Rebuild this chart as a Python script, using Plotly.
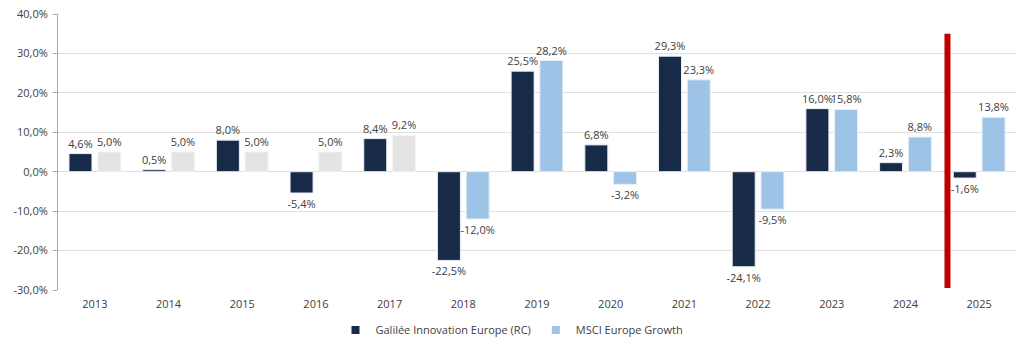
import plotly.graph_objects as go

YEARS = ["2013", "2014", "2015", "2016", "2017", "2018", "2019",
         "2020", "2021", "2022", "2023", "2024", "2025"]
GALILEE = [4.6, 0.5, 8.0, -5.4, 8.4, -22.5, 25.5, 6.8, 29.3, -24.1, 16.0, 2.3, -1.6]
MSCI = [5.0, 5.0, 5.0, 5.0, 9.2, -12.0, 28.2, -3.2, 23.3, -9.5, 15.8, 8.8, 13.8]
GREY_YEARS = ["2013", "2014", "2015", "2016", "2017"]  # shown in grey (no legend)
NAME_G = "Galilée Innovation Europe (RC)"
NAME_M = "MSCI Europe Growth"
Y_TICKS = [-30, -20, -10, 0, 10, 20, 30, 40]
Y_TICKTEXT = [f"{v:.1f}%".replace(".", ",") for v in Y_TICKS]

DARK = "#172b48"
BLUE = "#9dc3e6"
GREY = "#e4e4e4"
TXT = "#404040"
FONT = "Open Sans"

grey_x = [y for y in YEARS if y in GREY_YEARS]
grey_v = [v for y, v in zip(YEARS, MSCI) if y in GREY_YEARS]
blue_x = [y for y in YEARS if y not in GREY_YEARS]
blue_v = [v for y, v in zip(YEARS, MSCI) if y not in GREY_YEARS]

common = dict(textposition="outside", texttemplate="%{y:.1f}%",
              textfont=dict(size=11, color=TXT, family=FONT),
              cliponaxis=False, hoverinfo="x+y", showlegend=False)

fig = go.Figure()
fig.add_trace(go.Bar(x=YEARS, y=GALILEE, name=NAME_G, offsetgroup="g",
                     marker=dict(color=DARK, line=dict(color="#e8edf3", width=1)),
                     **common))
fig.add_trace(go.Bar(x=blue_x, y=blue_v, name=NAME_M, offsetgroup="m",
                     marker=dict(color=BLUE, line=dict(color="#e8f0f8", width=1)),
                     **common))
fig.add_trace(go.Bar(x=grey_x, y=grey_v, name=NAME_M, offsetgroup="m",
                     marker=dict(color=GREY, line=dict(color="#f2f2f2", width=1)),
                     **common))

# legend proxies (small square symbols)
for nm, col in [(NAME_G, DARK), (NAME_M, BLUE)]:
    fig.add_trace(go.Scatter(x=[None], y=[None], mode="markers", name=nm,
                             marker=dict(symbol="square", size=8, color=col),
                             showlegend=True, hoverinfo="skip"))

# red separator between 2024 and 2025
sep_x = YEARS.index("2025") - 0.43
fig.add_shape(type="line", xref="x", yref="y", x0=sep_x, x1=sep_x,
              y0=35, y1=-29.5, line=dict(color="#c00000", width=6), layer="above")

fig.update_layout(
    width=1024, height=350,
    margin=dict(l=58, r=8, t=14, b=60, autoexpand=False),
    paper_bgcolor="white", plot_bgcolor="white",
    barmode="group", bargap=0.22, bargroupgap=0.2,
    separators=", ",
    uniformtext=dict(minsize=11, mode="show"),
    font=dict(family=FONT, size=11, color=TXT),
    showlegend=True,
    legend=dict(orientation="h", xref="container", yref="container",
                x=0.5, xanchor="center", y=0.057, yanchor="middle",
                font=dict(size=11, color=TXT, family=FONT),
                itemwidth=30, traceorder="normal"),
    xaxis=dict(type="category", categoryorder="array", categoryarray=YEARS,
               showline=False, ticks="", showgrid=False, ticklabelstandoff=6,
               automargin=False,
               tickfont=dict(size=11, color=TXT), range=[-0.5, len(YEARS) - 0.5]),
    xaxis2=dict(type="linear", overlaying="x", anchor="free",
                position=30 / 70, range=[-0.5, len(YEARS) - 0.5],
                showline=True, linecolor="#bfbfbf", linewidth=1,
                ticks="outside", ticklen=4, tickcolor="#bfbfbf", automargin=False,
                tickvals=[i + 0.5 for i in range(len(YEARS) - 1)],
                showticklabels=False, showgrid=False, zeroline=False),
    yaxis=dict(range=[-30, 40], tickmode="array", tickvals=Y_TICKS, ticktext=Y_TICKTEXT,
               showgrid=True, gridcolor="#e0e0e0", gridwidth=1,
               zeroline=False, showline=True, linecolor="#a6a6a6", linewidth=1,
               ticks="outside", ticklen=4, tickcolor="#a6a6a6", ticklabelstandoff=3,
               automargin=False,
               tickfont=dict(size=11, color=TXT)),
)

fig.write_html("out.html")
